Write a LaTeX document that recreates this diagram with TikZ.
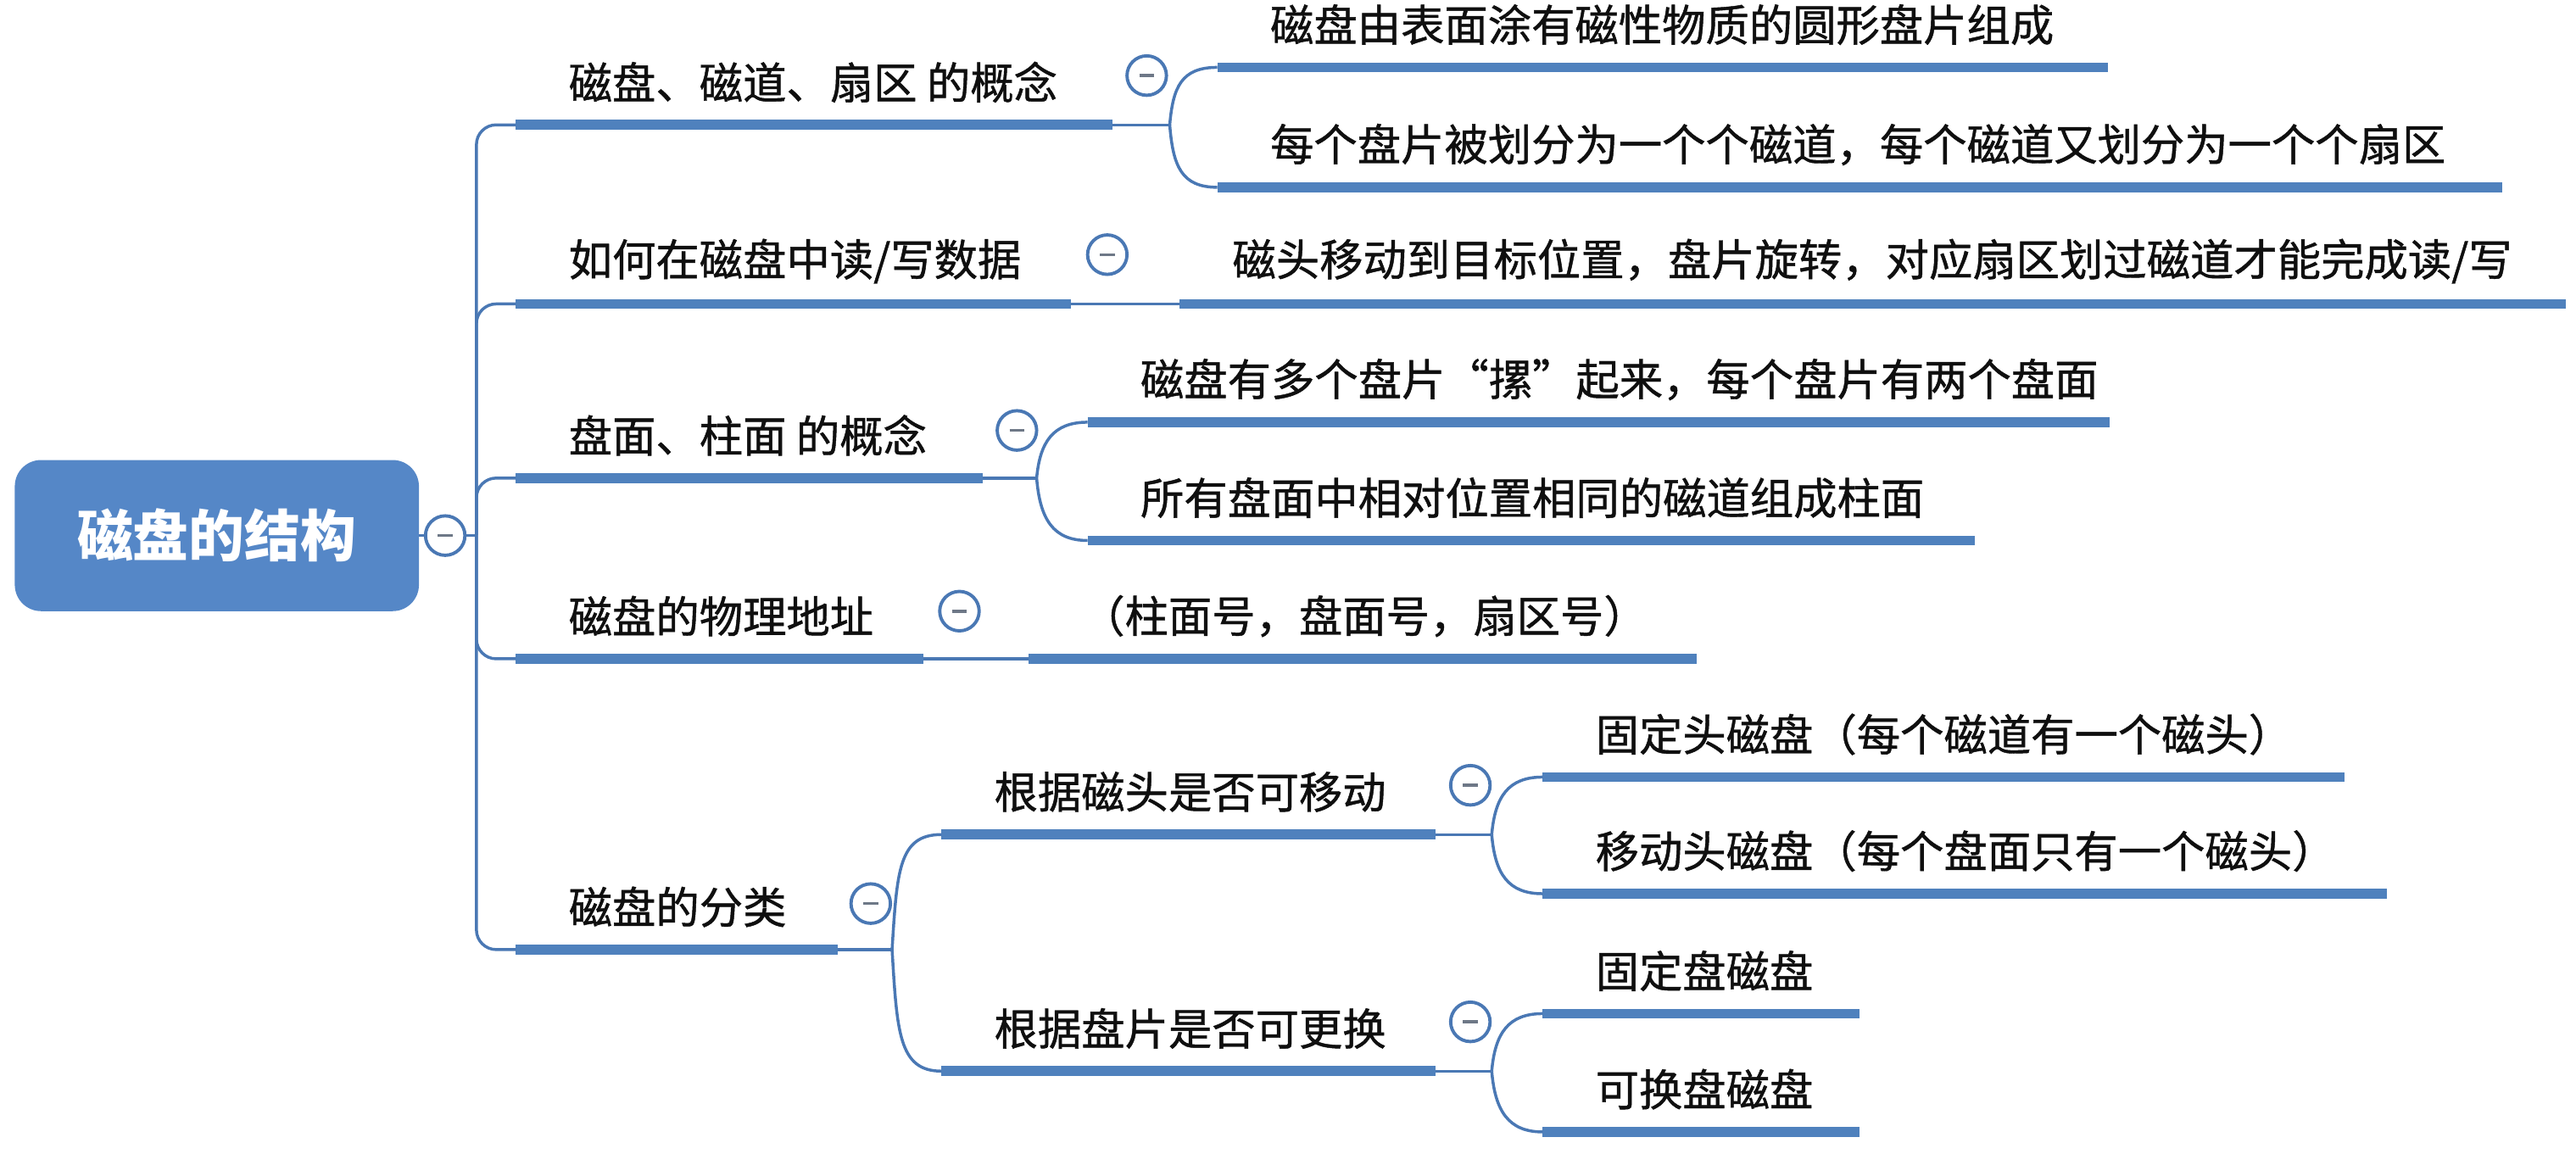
\documentclass[tikz,border=0pt]{standalone}
\usepackage{fontspec}
\setmainfont{Noto Sans CJK SC}
\usetikzlibrary{calc}
\definecolor{barblue}{RGB}{79,129,189}
\definecolor{lineblue}{RGB}{74,120,180}
\definecolor{rootblue}{RGB}{85,135,199}
\definecolor{minusgray}{RGB}{110,120,135}
\definecolor{txtblack}{RGB}{15,15,15}
\newcommand\topic[5]{%
  \coordinate (#1-s) at (#2,#4);
  \coordinate (#1-e) at (#3,#4);
  \draw[bar] (#1-s) -- (#1-e);
  \node[txt] (#1) at ([xshift=32pt,yshift=26pt]#1-s) {#5};
}
\begin{document}
\begin{tikzpicture}[x=1pt,y=-1pt,
  bar/.style={line width=6pt, draw=barblue},
  conn/.style={line width=1.8pt, draw=lineblue},
  txt/.style={anchor=west, inner sep=0pt, font=\fontsize{26.5}{30}\selectfont\addfontfeature{FakeBold=0.9}, text=txtblack},
  fold/.style={circle, draw=lineblue, line width=2pt, fill=white, minimum size=24pt, inner sep=0pt,
    path picture={\draw[minusgray, line width=1.8pt] ([xshift=-4.5pt]path picture bounding box.center) -- ([xshift=4.5pt]path picture bounding box.center);}},
  rootbox/.style={rounded corners=16pt, fill=rootblue, minimum width=246pt, minimum height=92pt, inner sep=0pt, text=white, font=\fontsize{34}{40}\selectfont\bfseries}
]
\useasboundingbox (0,0) rectangle (1568,702.4);

% root
\node[rootbox] (root) at (132,326) {磁盘的结构};
\node[fold] (rootfold) at (271,326) {};
\coordinate (trunk) at (290,326);
\draw[conn] (root.east) -- (rootfold.west);
\draw[conn] (rootfold.east) -- (trunk);

% level 1
\topic{A}{314}{677}{76}{磁盘、磁道、扇区 的概念}
\topic{B}{314}{652}{185}{如何在磁盘中读/写数据}
\topic{C}{314}{598}{291}{盘面、柱面 的概念}
\topic{D}{314}{562}{401}{磁盘的物理地址}
\topic{E}{314}{510}{578}{磁盘的分类}
\foreach \n in {A,B,C,D,E}{
  \draw[conn, rounded corners=12pt] (trunk) |- (\n-s);
}

% A
\node[fold] (Afold) at (698,46) {};
\coordinate (Asplit) at (712,76);
\draw[conn] (A-e) -- (Asplit);
\topic{A1}{741}{1283}{41}{磁盘由表面涂有磁性物质的圆形盘片组成}
\topic{A2}{741}{1523}{114}{每个盘片被划分为一个个磁道，每个磁道又划分为一个个扇区}
\draw[conn] (Asplit) .. controls +(2,-23) and +(-22,0) .. (A1-s);
\draw[conn] (Asplit) .. controls +(2,25) and +(-22,0) .. (A2-s);

% B
\node[fold] (Bfold) at (674,155) {};
\topic{B1}{718}{1562}{185}{磁头移动到目标位置，盘片旋转，对应扇区划过磁道才能完成读/写}
\draw[conn] (B-e) -- (B1-s);

% C
\node[fold] (Cfold) at (619,262) {};
\coordinate (Csplit) at (631,291);
\draw[conn] (C-e) -- (Csplit);
\topic{C1}{662}{1284}{257}{磁盘有多个盘片“摞”起来，每个盘片有两个盘面}
\topic{C2}{662}{1202}{329}{所有盘面中相对位置相同的磁道组成柱面}
\draw[conn] (Csplit) .. controls +(2,-22) and +(-21,0) .. (C1-s);
\draw[conn] (Csplit) .. controls +(2,25) and +(-21,0) .. (C2-s);

% D
\node[fold] (Dfold) at (584,372) {};
\topic{D1}{626}{1033}{401}{（柱面号，盘面号，扇区号）}
\draw[conn] (D-e) -- (D1-s);

% E
\node[fold] (Efold) at (530,550) {};
\coordinate (Esplit) at (543,578);
\draw[conn] (E-e) -- (Esplit);
\topic{E1}{573}{874}{508}{根据磁头是否可移动}
\topic{E2}{573}{874}{652}{根据盘片是否可更换}
\draw[conn] (Esplit) .. controls +(3,-48) and +(-26,0) .. (E1-s);
\draw[conn] (Esplit) .. controls +(3,50) and +(-26,0) .. (E2-s);

% E1
\node[fold] (E1fold) at (895,478) {};
\coordinate (E1split) at (908,508);
\draw[conn] (E1-e) -- (E1split);
\topic{E11}{939}{1427}{473}{固定头磁盘（每个磁道有一个磁头）}
\topic{E12}{939}{1453}{544}{移动头磁盘（每个盘面只有一个磁头）}
\draw[conn] (E1split) .. controls +(2,-23) and +(-21,0) .. (E11-s);
\draw[conn] (E1split) .. controls +(2,24) and +(-21,0) .. (E12-s);

% E2
\node[fold] (E2fold) at (895,622) {};
\coordinate (E2split) at (908,652);
\draw[conn] (E2-e) -- (E2split);
\topic{E21}{939}{1132}{617}{固定盘磁盘}
\topic{E22}{939}{1132}{689}{可换盘磁盘}
\draw[conn] (E2split) .. controls +(2,-23) and +(-21,0) .. (E21-s);
\draw[conn] (E2split) .. controls +(2,24) and +(-21,0) .. (E22-s);
\end{tikzpicture}
\end{document}
